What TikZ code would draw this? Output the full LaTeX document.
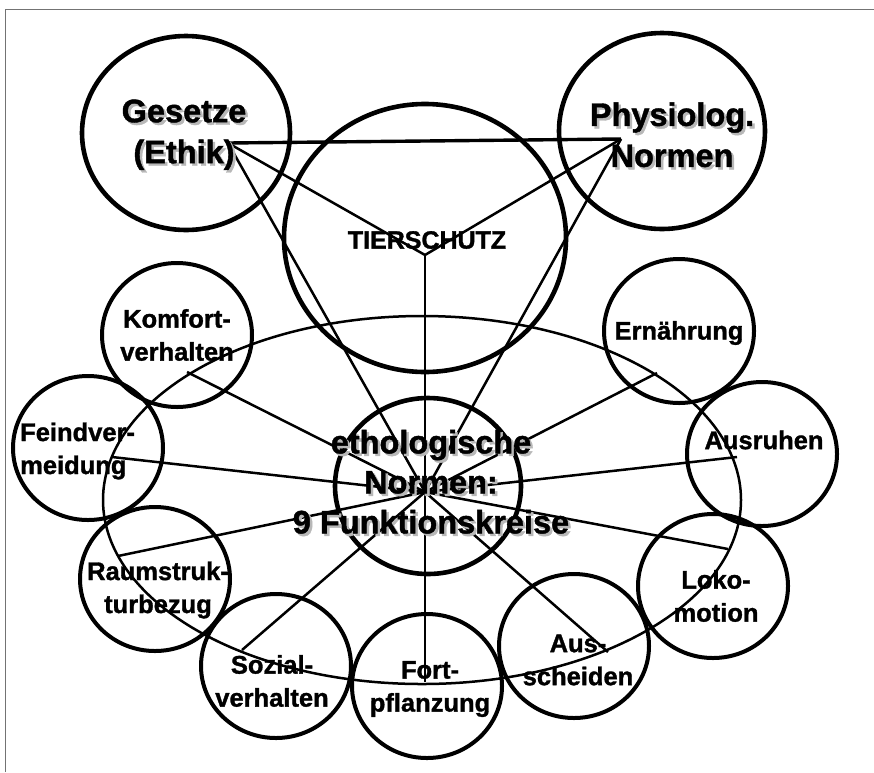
\documentclass[tikz,border=0pt]{standalone}
\usepackage{fontspec}
\setmainfont{Liberation Sans}[BoldFeatures={FakeBold=1.3}]
\usetikzlibrary{shapes.geometric}
\newcommand\shd[1]{\leavevmode\rlap{\kern2.5pt\raisebox{-2.5pt}{\textcolor{black!28}{#1}}}#1}
\begin{document}
\begin{tikzpicture}[x=1pt,y=-1pt,
  circ/.style={draw, ellipse, line width=4pt, minimum width=150pt, minimum height=144pt, inner sep=0pt},
  bigc/.style={draw, ellipse, line width=4.6pt, inner sep=0pt},
  lbl/.style={font=\fontsize{25.5}{33}\selectfont\bfseries, align=center, inner sep=0pt},
  biglbl/.style={font=\fontsize{32.5}{41}\selectfont\bfseries, align=center, inner sep=0pt},
  spoke/.style={line width=2.5pt},
  frame/.style={draw=black!55, line width=1pt}]
\useasboundingbox (0,0) rectangle (874,772);
\draw[frame] (5,772) -- (5,9) -- (874,9);

% large circles
\node[bigc, minimum width=208pt, minimum height=194pt] (ges) at (186,133) {};
\node[bigc, minimum width=206pt, minimum height=196pt] (phy) at (662,131) {};
\node[bigc, minimum width=282pt, minimum height=268pt] (tier) at (425,238) {};
\node[bigc, minimum width=186pt, minimum height=176pt] (eth) at (428,486) {};

% thin ellipse
\node[draw, ellipse, line width=2.5pt, minimum width=638pt, minimum height=368pt, inner sep=0pt] (ring) at (422,500) {};

% small circles
\node[circ] (komf) at (177,335) {};
\node[circ] (feind) at (88,448) {};
\node[circ] (raum) at (155,579) {};
\node[circ] (sozc) at (276,666) {};
\node[circ] (fortc) at (427,686) {};
\node[circ] (ausc) at (574,646) {};
\node[circ] (loko) at (713,586) {};
\node[circ] (ausr) at (762,454) {};
\node[circ] (ern) at (679,331) {};

% coordinates
\coordinate (G) at (228,143);
\coordinate (P) at (621,139);
\coordinate (T) at (425,255);
\coordinate (H) at (425,492);
\coordinate (eKomf) at (187,372);
\coordinate (eFeind) at (112,457);
\coordinate (eRaum) at (118,556);
\coordinate (eSoz) at (242,650);
\coordinate (eFort) at (425,682);
\coordinate (eAus) at (608,652);
\coordinate (eLoko) at (728,549);
\coordinate (eAusr) at (737,457);
\coordinate (eErn) at (657,373);

% triangle and links
\draw[line width=3.4pt] (G) -- (P);
\draw[spoke] (G) -- (T);
\draw[spoke] (P) -- (T);
\draw[spoke] (G) -- (H);
\draw[spoke] (P) -- (H);
\draw[spoke] (T) -- (eFort);

% spokes
\foreach \e in {eKomf,eFeind,eRaum,eSoz,eAus,eLoko,eAusr,eErn}
  \draw[spoke] (H) -- (\e);

% labels
\node[biglbl] (gest) at (184,136) {\shd{Gesetze}\\\shd{(Ethik)}};
\node[biglbl] (phyt) at (672,136) {\shd{Physiolog.}\\\shd{Normen}};
\node[font=\fontsize{25}{28}\selectfont\bfseries, inner sep=0pt] (tiert) at (427,240) {TIERSCHUTZ};
\node[font=\fontsize{32.5}{40}\selectfont\bfseries, align=center, inner sep=0pt] (etht) at (431,483) {\shd{ethologische}\\\shd{Normen:}\\\shd{9 Funktionskreise}};

\node[lbl] (komft) at (177,335) {Komfort-\\verhalten};
\node[lbl, align=left, anchor=west] (feindt) at (20,451) {Feindver-\\meidung};
\node[lbl] (raumt) at (158,590) {Raumstruk-\\turbezug};
\node[lbl] (sozt) at (272,681) {Sozial-\\verhalten};
\node[lbl] (fortt) at (430,689) {Fort-\\pflanzung};
\node[lbl] (aust) at (578,660) {Aus-\\scheiden};
\node[lbl] (lokot) at (716,596) {Loko-\\motion};
\node[lbl] (ausrt) at (764,440) {Ausruhen};
\node[lbl] (ernt) at (679,333) {Ernährung};
\end{tikzpicture}
\end{document}
